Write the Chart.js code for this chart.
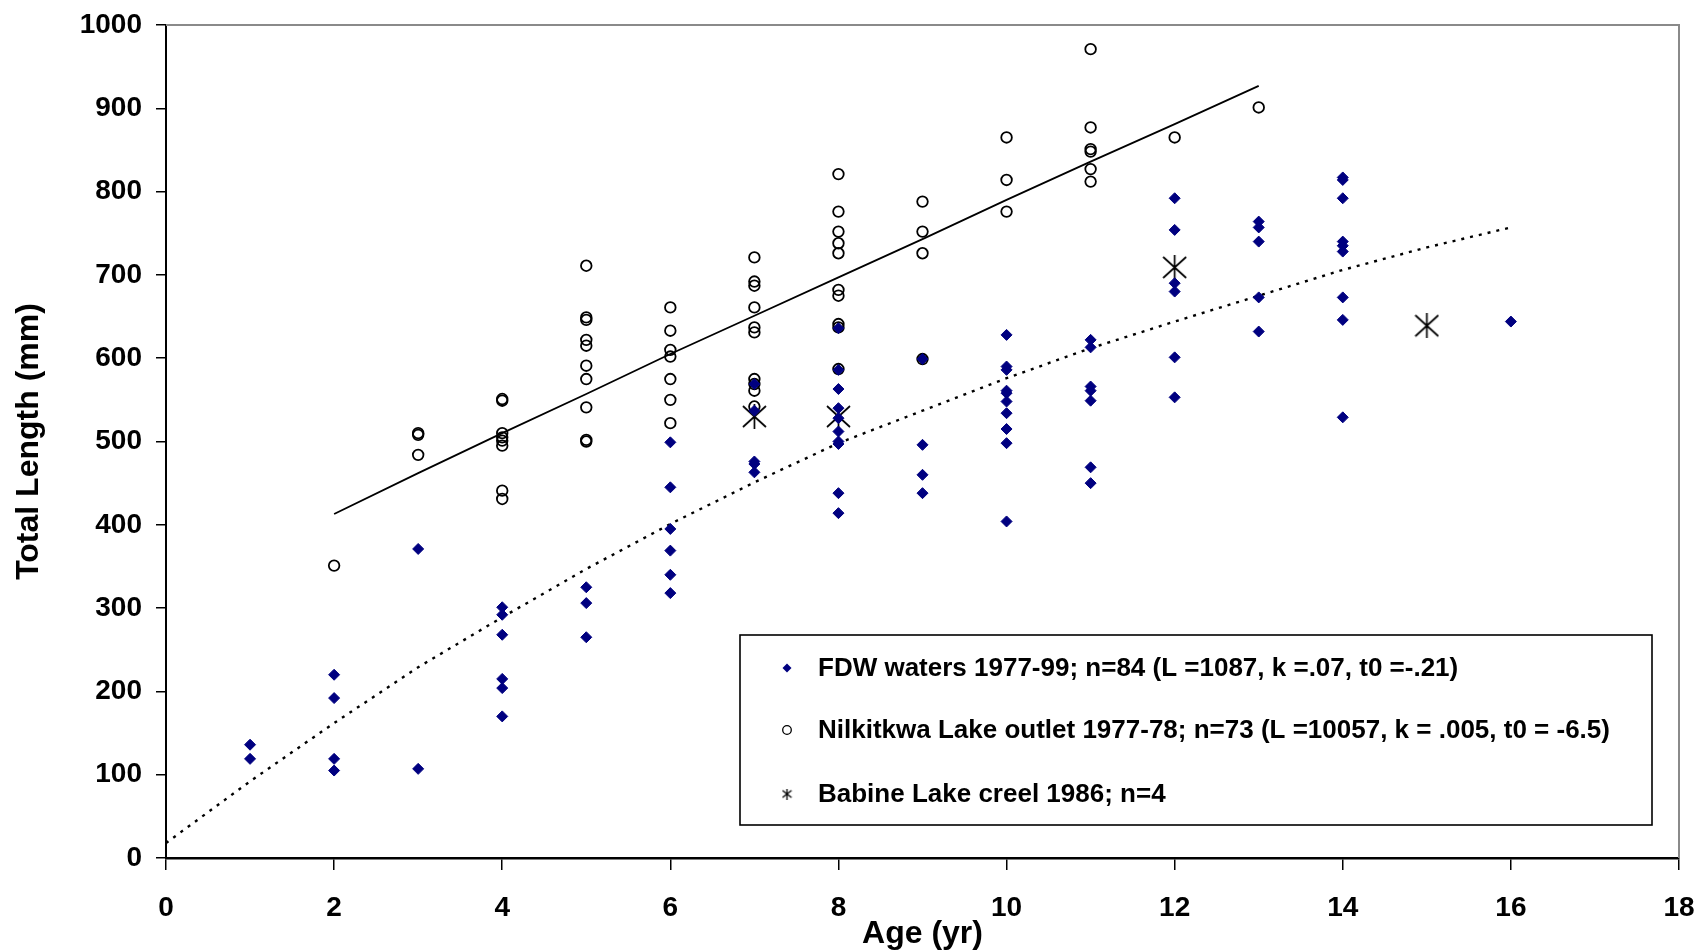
<!DOCTYPE html>
<html>
<head>
<meta charset="utf-8">
<title>Total length at age</title>
<script src="https://cdn.jsdelivr.net/npm/chart.js@4.4.1/dist/chart.umd.min.js"></script>
<style>
  html, body { margin: 0; padding: 0; background: #fff; }
  #wrap { width: 1699px; height: 952px; }
</style>
</head>
<body>
<div id="wrap"><canvas id="growthChart"></canvas></div>
<script>
// FDW waters 1977-99 (navy diamonds), one line per age
const fdwAges = [
  1, 1,
  2, 2, 2, 2,
  3, 3,
  4, 4, 4, 4, 4, 4,
  5, 5, 5,
  6, 6, 6, 6, 6, 6,
  7, 7, 7, 7, 7,
  8, 8, 8, 8, 8, 8, 8, 8, 8, 8,
  9, 9, 9, 9,
  10, 10, 10, 10, 10, 10, 10, 10, 10, 10,
  11, 11, 11, 11, 11, 11, 11,
  12, 12, 12, 12, 12, 12,
  13, 13, 13, 13, 13,
  14, 14, 14, 14, 14, 14, 14, 14, 14,
  16,
];
const fdwLengths = [
  136, 119,
  220, 192, 119, 105,
  371, 107,
  301, 292, 268, 215, 204, 170,
  325, 306, 265,
  499, 445, 395, 369, 340, 318,
  569, 537, 476, 473, 463,
  636, 586, 563, 540, 528, 512, 500, 497, 438, 414,
  599, 496, 460, 438,
  628, 590, 586, 561, 558, 548, 534, 515, 498, 404,
  622, 613, 566, 561, 549, 469, 450,
  792, 754, 690, 680, 601, 553,
  764, 757, 740, 673, 632,
  817, 814, 792, 740, 735, 728, 673, 646, 529,
  644,
];

// Nilkitkwa Lake outlet 1977-78 (open circles)
const nilAges = [
  2,
  3, 3, 3,
  4, 4, 4, 4, 4, 4, 4, 4,
  5, 5, 5, 5, 5, 5, 5, 5, 5, 5,
  6, 6, 6, 6, 6, 6, 6,
  7, 7, 7, 7, 7, 7, 7, 7, 7, 7,
  8, 8, 8, 8, 8, 8, 8, 8, 8, 8,
  9, 9, 9, 9,
  10, 10, 10,
  11, 11, 11, 11, 11, 11,
  12,
  13,
];
const nilLengths = [
  351,
  510, 508, 484,
  551, 549, 510, 505, 501, 495, 441, 431,
  711, 649, 646, 622, 615, 591, 575, 541, 502, 500,
  661, 633, 610, 602, 575, 550, 522,
  721, 692, 687, 661, 637, 631, 575, 569, 561, 542,
  821, 776, 752, 738, 726, 682, 675, 641, 637, 587,
  788, 752, 726, 599,
  865, 814, 776,
  971, 877, 851, 848, 827, 812,
  865,
  901,
];

// Babine Lake creel 1986 (asterisks)
const babineAges = [7, 8, 12, 15];
const babineLengths = [530, 530, 709, 639];

// fitted growth curves at whole ages
const fdwCurveAges = [0, 1, 2, 3, 4, 5, 6, 7, 8, 9, 10, 11, 12, 13, 14, 15, 16];
const fdwCurve = [18, 92, 162, 229, 289, 347, 401, 451, 498, 537, 576, 612, 644, 675, 706, 733, 757];
const nilCurveAges = [2, 3, 4, 5, 6, 7, 8, 9, 10, 11, 12, 13];
const nilCurve = [413, 462, 510, 557, 605, 651, 697, 743, 790, 836, 881, 927];

const xTicks = [0, 2, 4, 6, 8, 10, 12, 14, 16, 18];
const yTicks = [0, 100, 200, 300, 400, 500, 600, 700, 800, 900, 1000];

const seriesLabels = [
  "FDW waters 1977-99; n=84 (L =1087, k =.07, t0 =-.21)",
  "Nilkitkwa Lake outlet 1977-78; n=73 (L =10057, k = .005, t0 = -6.5)",
  "Babine Lake creel 1986; n=4",
];

const FONT = "Arial, 'Liberation Sans', Helvetica, sans-serif";

function toPoints(xs, ys) {
  return xs.map((x, i) => ({ x: x, y: ys[i] }));
}

// Excel style asterisk: an X with a vertical bar through it
function makeAsterisk(size, lineWidth) {
  const c = document.createElement("canvas");
  c.width = size;
  c.height = size;
  const g = c.getContext("2d");
  g.strokeStyle = "#000";
  g.lineWidth = lineWidth;
  const m = 1;
  g.beginPath();
  g.moveTo(m, m + 1);
  g.lineTo(size - m, size - m - 1);
  g.moveTo(size - m, m + 1);
  g.lineTo(m, size - m - 1);
  g.moveTo(size / 2, 0);
  g.lineTo(size / 2, size);
  g.stroke();
  return c;
}

const asteriskBig = makeAsterisk(25, 1.7);
const asteriskSmall = makeAsterisk(11, 1.3);

/** gray top and right edges of the plot area */
const plotFrame = {
  id: "plotFrame",
  beforeDatasetsDraw(chart) {
    const { ctx, chartArea } = chart;
    ctx.save();
    ctx.strokeStyle = "#8a8a8a";
    ctx.lineWidth = 2;
    ctx.beginPath();
    ctx.moveTo(chartArea.left, chartArea.top);
    ctx.lineTo(chartArea.right, chartArea.top);
    ctx.lineTo(chartArea.right, chartArea.bottom);
    ctx.stroke();
    ctx.restore();
  },
};

/** legend drawn as a framed box inside the plot */
const boxLegend = {
  id: "boxLegend",
  afterDraw(chart, args, opts) {
    const ctx = chart.ctx;
    ctx.save();
    ctx.fillStyle = "#fff";
    ctx.fillRect(opts.left, opts.top, opts.width, opts.height);
    ctx.strokeStyle = "#000";
    ctx.lineWidth = 1.6;
    ctx.strokeRect(opts.left, opts.top, opts.width, opts.height);

    ctx.font = "bold " + opts.fontSize + "px " + FONT;
    ctx.textBaseline = "middle";
    ctx.textAlign = "left";

    chart.data.datasets.slice(0, 3).forEach((ds, i) => {
      const y = opts.rows[i];
      const x = opts.markerX;
      ctx.fillStyle = ds.backgroundColor;
      ctx.strokeStyle = ds.borderColor;
      ctx.lineWidth = 1.3;
      if (ds.pointStyle === "rectRot") {
        ctx.beginPath();
        ctx.moveTo(x, y - 4.5);
        ctx.lineTo(x + 4.5, y);
        ctx.lineTo(x, y + 4.5);
        ctx.lineTo(x - 4.5, y);
        ctx.closePath();
        ctx.fill();
      } else if (ds.pointStyle === "circle") {
        ctx.beginPath();
        ctx.arc(x, y, 4.3, 0, Math.PI * 2);
        ctx.stroke();
      } else {
        ctx.drawImage(asteriskSmall, x - 5.5, y - 5.5);
      }
      ctx.fillStyle = "#000";
      ctx.fillText(ds.label, opts.textX, y + 1);
    });
    ctx.restore();
  },
};

const tickFont = { family: FONT, size: 28, weight: "bold" };
const titleFont = { family: FONT, size: 32, weight: "bold", lineHeight: 1 };

const ctx = document.getElementById("growthChart").getContext("2d");
new Chart(ctx, {
  type: "scatter",
  data: {
    datasets: [
      {
        label: seriesLabels[0],
        data: toPoints(fdwAges, fdwLengths),
        pointStyle: "rectRot",
        pointRadius: 5.5,
        backgroundColor: "#000080",
        borderColor: "#000080",
        borderWidth: 1,
      },
      {
        label: seriesLabels[1],
        data: toPoints(nilAges, nilLengths),
        pointStyle: "circle",
        pointRadius: 5.3,
        backgroundColor: "rgba(0,0,0,0)",
        borderColor: "#000",
        borderWidth: 1.8,
      },
      {
        label: seriesLabels[2],
        data: toPoints(babineAges, babineLengths),
        pointStyle: asteriskBig,
        pointRadius: 12,
        backgroundColor: "#000",
        borderColor: "#000",
      },
      {
        label: "FDW fit",
        data: toPoints(fdwCurveAges, fdwCurve),
        showLine: true,
        pointRadius: 0,
        borderColor: "#000",
        borderWidth: 2.4,
        borderDash: [3, 6],
        tension: 0,
      },
      {
        label: "Nilkitkwa fit",
        data: toPoints(nilCurveAges, nilCurve),
        showLine: true,
        pointRadius: 0,
        borderColor: "#000",
        borderWidth: 1.8,
        tension: 0,
      },
    ],
  },
  options: {
    responsive: true,
    maintainAspectRatio: false,
    animation: false,
    events: [],
    layout: { padding: { left: 0, right: 20, top: 25, bottom: 2 } },
    scales: {
      x: {
        type: "linear",
        min: 0,
        max: 18,
        afterBuildTicks(scale) {
          scale.ticks = xTicks.map((v) => ({ value: v }));
        },
        ticks: { color: "#000", font: tickFont, padding: 21, maxRotation: 0, callback: (v) => String(v) },
        grid: { drawOnChartArea: false, drawTicks: true, tickLength: 12, color: "#000", lineWidth: 1.5 },
        border: { color: "#000", width: 2.5 },
        title: { display: true, text: "Age (yr)", color: "#000", font: titleFont, padding: { top: 0, bottom: 0 } },
        afterFit(scale) {
          scale.height = 92;
          scale.paddingLeft = 0;
          scale.paddingRight = 0;
        },
      },
      y: {
        type: "linear",
        min: 0,
        max: 1000,
        afterBuildTicks(scale) {
          scale.ticks = yTicks.map((v) => ({ value: v }));
        },
        ticks: { color: "#000", font: tickFont, padding: 14, callback: (v) => String(v) },
        grid: { drawOnChartArea: false, drawTicks: true, tickLength: 10, color: "#000", lineWidth: 1.5 },
        border: { color: "#000", width: 2 },
        title: { display: true, text: "Total Length (mm)", color: "#000", font: titleFont, padding: { top: 13, bottom: 0 } },
        afterFit(scale) {
          scale.width = 166;
          scale.paddingTop = 0;
          scale.paddingBottom = 0;
        },
      },
    },
    plugins: {
      legend: { display: false },
      tooltip: { enabled: false },
      boxLegend: {
        left: 740,
        top: 635,
        width: 912,
        height: 190,
        markerX: 787,
        textX: 818,
        rows: [668, 730, 794],
        fontSize: 26,
      },
    },
  },
  plugins: [plotFrame, boxLegend],
});
</script>
</body>
</html>
